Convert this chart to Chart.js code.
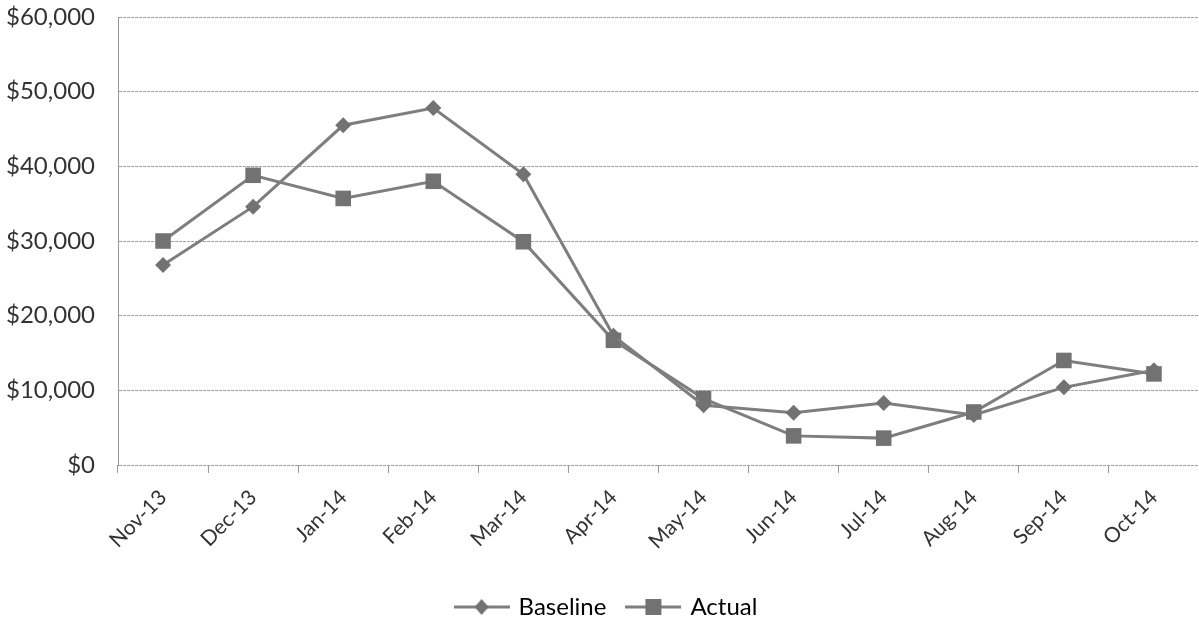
<!DOCTYPE html>
<html>
<head>
<meta charset="utf-8">
<script src="https://cdn.jsdelivr.net/npm/chart.js@4/dist/chart.umd.min.js"></script>
<style>
  html, body { margin: 0; padding: 0; background: #fff; }
  #wrap { width: 1199px; height: 629px; }
</style>
</head>
<body>
<div id="wrap"><canvas id="lineChart"></canvas></div>
<script>
const months = ["Nov-13", "Dec-13", "Jan-14", "Feb-14", "Mar-14", "Apr-14",
                "May-14", "Jun-14", "Jul-14", "Aug-14", "Sep-14", "Oct-14"];
const baseline = [26800, 34600, 45500, 47800, 38950, 17300, 8000, 7000, 8300, 6700, 10400, 12700];
const actual = [30000, 38800, 35700, 38000, 29900, 16700, 8900, 3900, 3600, 7100, 14000, 12200];
const yTicks = [0, 10000, 20000, 30000, 40000, 50000, 60000];

const grey = "#7e7e7e";

// little legend picture: line with the marker in the middle
function legendIcon(shape) {
    let c = document.createElement("canvas");
    c.width = 56;
    c.height = 18;
    let g = c.getContext("2d");
    g.strokeStyle = grey;
    g.lineWidth = 3;
    g.beginPath();
    g.moveTo(0, 9);
    g.lineTo(56, 9);
    g.stroke();
    g.fillStyle = "#727272";
    if (shape == "diamond") {
        g.beginPath();
        g.moveTo(28, 1);
        g.lineTo(35, 9);
        g.lineTo(28, 17);
        g.lineTo(21, 9);
        g.closePath();
        g.fill();
    } else {
        g.fillRect(20, 1, 16, 16);
    }
    return c;
}

var ctx = document.getElementById("lineChart").getContext("2d");

var lineChart = new Chart(ctx, {
    type: "line",
    data: {
        labels: months,
        datasets: [{
            label: "Baseline",
            data: baseline,
            borderColor: grey,
            backgroundColor: "#727272",
            borderWidth: 3,
            pointStyle: "rectRot",
            pointRadius: 8,
            pointBorderWidth: 0,
            tension: 0,
        }, {
            label: "Actual",
            data: actual,
            borderColor: grey,
            backgroundColor: "#727272",
            borderWidth: 3,
            pointStyle: "rect",
            pointRadius: 11,
            pointBorderWidth: 0,
            tension: 0,
        }],
    },
    options: {
        responsive: true,
        maintainAspectRatio: false,
        animation: false,
        layout: { autoPadding: false, padding: { top: 17, right: -8, left: 7, bottom: 0 } },
        plugins: {
            tooltip: { enabled: false },
            legend: {
                position: "bottom",
                labels: {
                    usePointStyle: true,
                    pointStyleWidth: 50,
                    color: "#333",
                    font: { family: "Lato", size: 24 },
                    padding: 22,
                    generateLabels: function(chart) {
                        return chart.data.datasets.map(function(ds, i) {
                            return {
                                text: ds.label,
                                pointStyle: legendIcon(i == 0 ? "diamond" : "square"),
                                fillStyle: grey,
                                strokeStyle: grey,
                                lineWidth: 0,
                                datasetIndex: i,
                                hidden: false,
                            };
                        });
                    },
                },
            },
        },
        scales: {
            x: {
                offset: true,
                afterFit: function(axis) {
                    // leave room between the date labels and the legend
                    axis.height = 108;
                    axis.paddingLeft = 0;
                    axis.paddingRight = 0;
                },
                grid: {
                    offset: true,
                    drawOnChartArea: false,
                    drawTicks: true,
                    tickLength: 8,
                    color: "#999",
                },
                border: { display: false },
                ticks: {
                    minRotation: 45,
                    maxRotation: 45,
                    color: "#333",
                    padding: 12,
                    font: { family: "Lato", size: 21 },
                },
            },
            y: {
                min: 0,
                max: 60000,
                afterBuildTicks: function(axis) {
                    axis.ticks = yTicks.map(function(v) { return { value: v }; });
                },
                afterFit: function(axis) {
                    axis.paddingTop = 0;
                    axis.width = 111;
                },
                grid: {
                    color: "#a0a0a0",
                    drawTicks: false,
                },
                border: { color: "#999", dash: [3, 1] },
                ticks: {
                    color: "#333",
                    padding: 23,
                    font: { family: "Lato", size: 24 },
                    callback: function(v) { return "$" + v.toLocaleString("en-US"); },
                },
            },
        },
    },
});
</script>
</body>
</html>
